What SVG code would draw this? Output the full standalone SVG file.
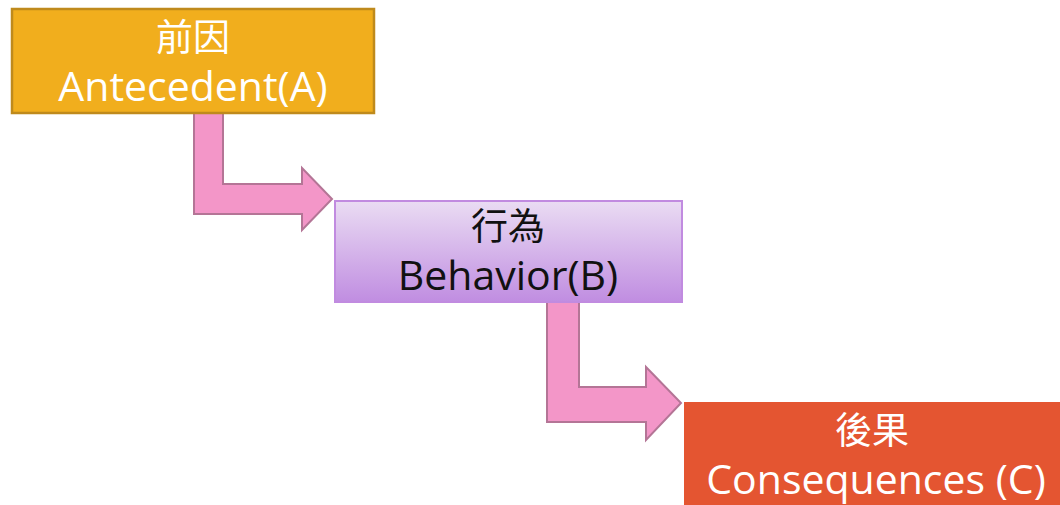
<svg xmlns="http://www.w3.org/2000/svg" width="1060" height="505" viewBox="0 0 1060 505">
<defs>
<linearGradient id="gB" x1="0" y1="0" x2="0" y2="1">
<stop offset="0" stop-color="#EADCF3"/>
<stop offset="1" stop-color="#C08DE1"/>
</linearGradient>
<style>
.t{font-family:"Open Sans","Noto Sans CJK TC",sans-serif;text-anchor:middle;font-size:41px}
.cjk{font-family:"Noto Sans CJK TC",sans-serif;text-anchor:middle;font-size:37px}
.arr{fill:#F396C8;stroke:#B47596;stroke-width:2;stroke-linejoin:miter}
</style>
</defs>
<rect width="1060" height="505" fill="#FFFFFF"/>
<g id="connectors">
<path class="arr" d="M194,113 L223,113 L223,184 L302,184 L302,168 L332,199 L302,230 L302,214 L194,214 Z"/>
<path class="arr" d="M547,302 L579,302 L579,387 L646,387 L646,367 L681,403 L646,440 L646,422 L547,422 Z"/>
</g>
<g id="nodeA">
<rect x="12" y="9" width="362" height="104" fill="#F1AE1D" stroke="#BF8A1C" stroke-width="2.5"/>
<text class="cjk" x="193" y="51" fill="#FFFFFF">前因</text>
<text class="t" x="193" y="101" fill="#FFFFFF">Antecedent(A)</text>
</g>
<g id="nodeB">
<rect x="335" y="201" width="347" height="101" fill="url(#gB)" stroke="#C18BE0" stroke-width="2"/>
<text class="cjk" x="508" y="240" fill="#111111">行為</text>
<text class="t" x="508" y="290" fill="#111111">Behavior(B)</text>
</g>
<g id="nodeC">
<rect x="684" y="402" width="390" height="110" fill="#E45531"/>
<text class="cjk" x="872" y="444" fill="#FFFFFF">後果</text>
<text class="t" x="876" y="494" fill="#FFFFFF">Consequences (C)</text>
</g>
</svg>
